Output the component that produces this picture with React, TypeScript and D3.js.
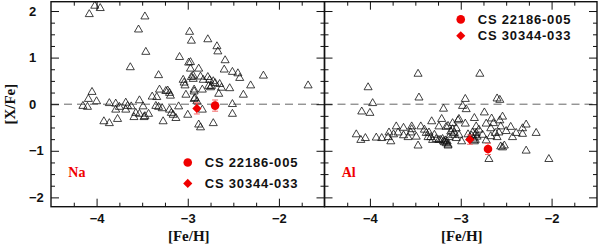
import { useEffect, useRef } from "react";
import * as d3 from "d3";

// comparison sample, [Na/Fe] vs [Fe/H]
const NA_FEH = [
  -4.02, -3.96, -4.08, -3.47, -3.54, -3.46, -3.63, -2.98, -2.96, -3.09,
  -2.99, -2.97, -2.88, -3.32, -3.05, -3.04, -3.03, -2.96, -2.94, -4.05,
  -4.09, -4.0, -4.15, -4.1, -3.86, -3.79, -3.75, -3.68, -3.66, -3.62,
  -3.79, -3.68, -3.53, -3.49, -3.57, -3.59, -3.53, -3.48, -3.47, -3.92,
  -3.86, -3.77, -3.43, -3.39, -3.34, -3.31, -3.35, -3.32, -3.28, -3.27,
  -3.22, -3.2, -3.19, -3.2, -3.18, -3.16, -3.13, -3.1, -3.02, -3.0,
  -2.93, -2.93, -2.9, -2.88, -2.78, -2.68, -2.67, -2.59, -2.6, -2.51,
  -2.45, -2.43, -2.17, -1.68, -2.31, -2.39, -2.54, -2.65, -2.63, -2.72,
  -2.74, -2.75, -2.7, -2.83, -2.84, -2.86, -2.94, -2.97, -2.93, -2.92,
  -2.51, -2.51, -2.72, -2.86, -2.84, -2.66, -3.24, -2.78, -2.76, -2.77,
];
const NA_XFE = [
  2.11, 2.06, 1.93, 1.88, 1.6, 1.12, 0.79, 1.55, 1.36, 1.01,
  0.89, 0.76, 0.76, 0.62, 0.52, 0.46, 0.4, 0.58, 0.61, 0.26,
  0.11, 0.06, -0.04, -0.06, 0.02, 0.01, -0.06, 0.03, -0.04, -0.05,
  -0.12, -0.12, 0.08, -0.05, -0.19, -0.28, -0.21, -0.28, -0.26, -0.37,
  -0.41, -0.32, -0.21, 0.16, 0.15, 0.31, -0.04, -0.06, -0.09, -0.37,
  0.29, 0.24, 0.18, -0.12, -0.19, -0.23, -0.3, -0.05, 0.2, -0.23,
  0.31, 0.11, 0.06, -0.44, 1.39, 1.24, 1.13, 0.94, 0.74, 0.69,
  0.66, 0.56, 0.61, 0.4, 0.4, 0.2, 0.34, 0.43, 0.35, 0.49,
  0.39, 0.36, 0.45, 0.52, 0.31, 0.59, 0.54, 0.9, 0.27, 0.13,
  0.0, -0.21, -0.41, -0.5, -0.12, 0.22, 0.28, 0.58, 0.52, 0.39,
];

// comparison sample, [Al/Fe] vs [Fe/H]
const AL_FEH = [
  -4.02, -3.97, -3.47, -3.46, -4.09, -4.0, -3.19, -3.21, -3.32, -4.15,
  -4.1, -4.05, -3.93, -3.87, -3.8, -3.77, -3.79, -3.74, -3.71, -3.69,
  -3.63, -3.63, -3.58, -3.55, -3.54, -3.54, -3.49, -3.47, -3.44, -3.4,
  -3.38, -3.36, -3.35, -3.33, -3.31, -3.29, -3.27, -3.24, -3.22, -3.19,
  -3.16, -3.14, -3.24, -3.14, -3.11, -3.09, -3.05, -3.03, -2.79, -2.6,
  -2.57, -2.95, -2.98, -2.94, -2.74, -2.54, -2.66, -2.57, -3.02, -2.95,
  -2.85, -2.83, -2.72, -2.67, -2.64, -2.45, -2.56, -2.28, -2.32, -2.39,
  -2.43, -2.32, -2.17, -2.58, -2.6, -2.67, -2.72, -2.76, -2.83, -2.87,
  -2.88, -3.09, -3.07, -3.05, -3.02, -2.99, -3.13, -3.14, -3.2, -2.85,
  -2.86, -2.84, -2.56, -2.52, -2.54, -2.28, -2.69, -2.03, -3.09, -3.16,
  -2.9, -2.92, -2.8, -2.62, -2.5, -3.17, -3.18, -3.15, -2.84, -2.82,
];
const AL_XFE = [
  0.36, 0.02, 0.65, 0.14, -0.16, -0.19, -0.1, -0.32, -0.37, -0.65,
  -0.77, -0.73, -0.72, -0.73, -0.71, -0.8, -0.61, -0.65, -0.48, -0.61,
  -0.51, -0.67, -0.71, -0.61, -0.48, -0.54, -0.7, -0.89, -0.48, -0.55,
  -0.62, -0.71, -0.61, -0.71, -0.77, -0.66, -0.75, -0.77, -0.77, -0.8,
  -0.84, -0.89, -0.48, -0.47, -0.59, -0.66, -0.52, -0.35, 0.65, 0.12,
  0.09, 0.11, -0.04, -0.11, -0.18, -0.27, -0.31, -0.35, -0.32, -0.42,
  -0.3, -0.48, -0.42, -0.52, -0.41, -0.49, -0.48, -0.44, -0.52, -0.62,
  -0.71, -0.64, -0.62, -0.61, -0.71, -0.69, -0.78, -0.66, -0.62, -0.61,
  -0.68, -0.54, -0.62, -0.73, -0.66, -0.8, -0.71, -0.87, -0.75, -0.8,
  -0.74, -0.77, -0.91, -0.89, -0.93, -1.0, -1.18, -1.18, -0.41, -0.49,
  -0.72, -0.65, -0.55, -0.62, -0.58, -0.78, -0.82, -0.8, -0.66, -0.7,
];

// program stars: [circle, diamond]
const STARS = ["CS 22186-005", "CS 30344-033"];
const STAR_FEH = [-2.7, -2.9];
const NA_STAR = [-0.03, -0.09];
const NA_ERR = [0.12, 0.12];
const AL_STAR = [-0.96, -0.76];
const AL_ERR = [0.12, 0.1];

const X_TICKS = [-4, -3, -2];
const Y_TICKS = [-2, -1, 0, 1, 2];
const X_DOMAIN = [-4.5, -1.5];
const Y_DOMAIN = [-2.2, 2.2];

const RED = "#f00000";
const TICK_FONT = "'Liberation Sans', Arial, sans-serif";
const SERIF = "'Liberation Serif', 'Times New Roman', serif";

export default function App() {
  const ref = useRef<SVGSVGElement | null>(null);

  useEffect(() => {
    if (!ref.current) return;
    const svg = d3.select(ref.current);
    svg.selectAll("*").remove();

    const top = 1.7, bottom = 206.7;
    const y = d3.scaleLinear().domain(Y_DOMAIN).range([bottom, top]);

    const panels = [
      { x0: 51, x1: 324.5, feh: NA_FEH, xfe: NA_XFE, star: NA_STAR, err: NA_ERR,
        label: "Na", legendY: [-1.25, -1.7], first: true },
      { x0: 324.5, x1: 597, feh: AL_FEH, xfe: AL_XFE, star: AL_STAR, err: AL_ERR,
        label: "Al", legendY: [1.82, 1.47], first: false },
    ];

    const tri = d3.symbol(d3.symbolTriangle, 28);
    const dia = d3.symbol(d3.symbolSquare, 42);

    panels.forEach(p => {
      const x = d3.scaleLinear().domain(X_DOMAIN).range([p.x0, p.x1]);
      const g = svg.append("g");

      // zero line
      g.append("line")
        .attr("x1", p.x0).attr("x2", p.x1)
        .attr("y1", y(0)).attr("y2", y(0))
        .attr("stroke", "#555").attr("stroke-width", 0.9)
        .attr("stroke-dasharray", "8,5");

      // comparison stars
      g.selectAll("path.tri")
        .data(d3.range(p.feh.length))
        .join("path")
        .attr("class", "tri")
        .attr("d", tri)
        .attr("transform", i => `translate(${x(p.feh[i])},${y(p.xfe[i])})`)
        .attr("fill", "none")
        .attr("stroke", "#111")
        .attr("stroke-width", 0.8);

      // error bars of program stars
      STAR_FEH.forEach((fe, i) => {
        const cx = x(fe);
        const ya = y(p.star[i] + p.err[i]), yb = y(p.star[i] - p.err[i]);
        const eb = g.append("g").attr("stroke", "#f36b6b").attr("stroke-width", 1);
        eb.append("line").attr("x1", cx).attr("x2", cx).attr("y1", ya).attr("y2", yb);
        eb.append("line").attr("x1", cx - 3).attr("x2", cx + 3).attr("y1", ya).attr("y2", ya);
        eb.append("line").attr("x1", cx - 3).attr("x2", cx + 3).attr("y1", yb).attr("y2", yb);
      });

      const marker = (i: number, cx: number, cy: number) => {
        if (i === 0) {
          g.append("circle").attr("cx", cx).attr("cy", cy).attr("r", 4.3).attr("fill", RED);
        } else {
          g.append("path").attr("d", dia)
            .attr("transform", `translate(${cx},${cy}) rotate(45)`)
            .attr("fill", RED);
        }
      };
      STAR_FEH.forEach((fe, i) => marker(i, x(fe), y(p.star[i])));

      // legend
      STARS.forEach((name, i) => {
        const cx = x(-3), cy = y(p.legendY[i]);
        marker(i, cx, cy);
        g.append("text")
          .attr("x", cx + 17).attr("y", cy)
          .attr("dy", "0.36em")
          .style("font-family", TICK_FONT)
          .style("font-size", "13px")
          .style("font-weight", 600)
          .style("letter-spacing", "0.8px")
          .style("fill", "#111")
          .text(name);
      });

      // element label
      g.append("text")
        .attr("x", x(-4.31)).attr("y", y(-1.57))
        .style("font-family", SERIF)
        .style("font-size", "14px")
        .style("font-weight", 700)
        .style("fill", RED)
        .text(p.label);

      // ticks
      const xMinor = d3.range(-4.25, -1.5, 0.25).filter(v => !Number.isInteger(v));
      const yMinor = d3.range(-2, 2.01, 0.25).filter(v => !Number.isInteger(v));
      const styleAxis = (a: d3.Selection<SVGGElement, unknown, null, undefined>) => {
        a.select(".domain").remove();
        a.selectAll(".tick line").attr("stroke", "#111").attr("stroke-width", 1);
      };

      const bottomMaj = g.append("g")
        .attr("transform", `translate(0,${bottom})`)
        .call(d3.axisBottom(x).tickValues(X_TICKS).tickSize(-8).tickPadding(7)
          .tickFormat(d3.format("d")));
      styleAxis(bottomMaj);
      bottomMaj.selectAll("text")
        .style("font-family", TICK_FONT).style("font-size", "13px")
        .style("font-weight", 700).style("fill", "#111");
      styleAxis(g.append("g").attr("transform", `translate(0,${bottom})`)
        .call(d3.axisBottom(x).tickValues(xMinor).tickSize(-4).tickFormat(() => "")));
      styleAxis(g.append("g").attr("transform", `translate(0,${top})`)
        .call(d3.axisTop(x).tickValues(X_TICKS).tickSize(-8).tickFormat(() => "")));
      styleAxis(g.append("g").attr("transform", `translate(0,${top})`)
        .call(d3.axisTop(x).tickValues(xMinor).tickSize(-4).tickFormat(() => "")));

      const leftMaj = g.append("g")
        .attr("transform", `translate(${p.x0},0)`)
        .call(d3.axisLeft(y).tickValues(Y_TICKS).tickSize(-8)
          .tickFormat(p.first ? d3.format("d") : () => ""));
      styleAxis(leftMaj);
      leftMaj.selectAll("text")
        .attr("text-anchor", "start")
        .attr("x", 29 - p.x0)
        .style("font-family", TICK_FONT).style("font-size", "13px")
        .style("font-weight", 700).style("fill", "#111");
      styleAxis(g.append("g").attr("transform", `translate(${p.x0},0)`)
        .call(d3.axisLeft(y).tickValues(yMinor).tickSize(-4).tickFormat(() => "")));
      styleAxis(g.append("g").attr("transform", `translate(${p.x1},0)`)
        .call(d3.axisRight(y).tickValues(Y_TICKS).tickSize(-8).tickFormat(() => "")));
      styleAxis(g.append("g").attr("transform", `translate(${p.x1},0)`)
        .call(d3.axisRight(y).tickValues(yMinor).tickSize(-4).tickFormat(() => "")));

      // frame
      g.append("rect")
        .attr("x", p.x0).attr("y", top)
        .attr("width", p.x1 - p.x0).attr("height", bottom - top)
        .attr("fill", "none").attr("stroke", "#111").attr("stroke-width", 1.4);

      // x title
      g.append("text")
        .attr("x", (p.x0 + p.x1) / 2 + 1).attr("y", 241)
        .attr("text-anchor", "middle")
        .style("font-family", SERIF).style("font-size", "15px")
        .style("font-weight", 700).style("fill", "#111")
        .text("[Fe/H]");
    });

    // y title
    svg.append("text")
      .attr("transform", `translate(15,${(top + bottom) / 2}) rotate(-90)`)
      .attr("text-anchor", "middle")
      .style("font-family", SERIF).style("font-size", "15px")
      .style("font-weight", 700).style("fill", "#111")
      .text("[X/Fe]");
  }, []);

  return (
    <svg ref={ref} width={600} height={245}
      style={{ position: "absolute", left: 0, top: 0, background: "#fff" }} />
  );
}
